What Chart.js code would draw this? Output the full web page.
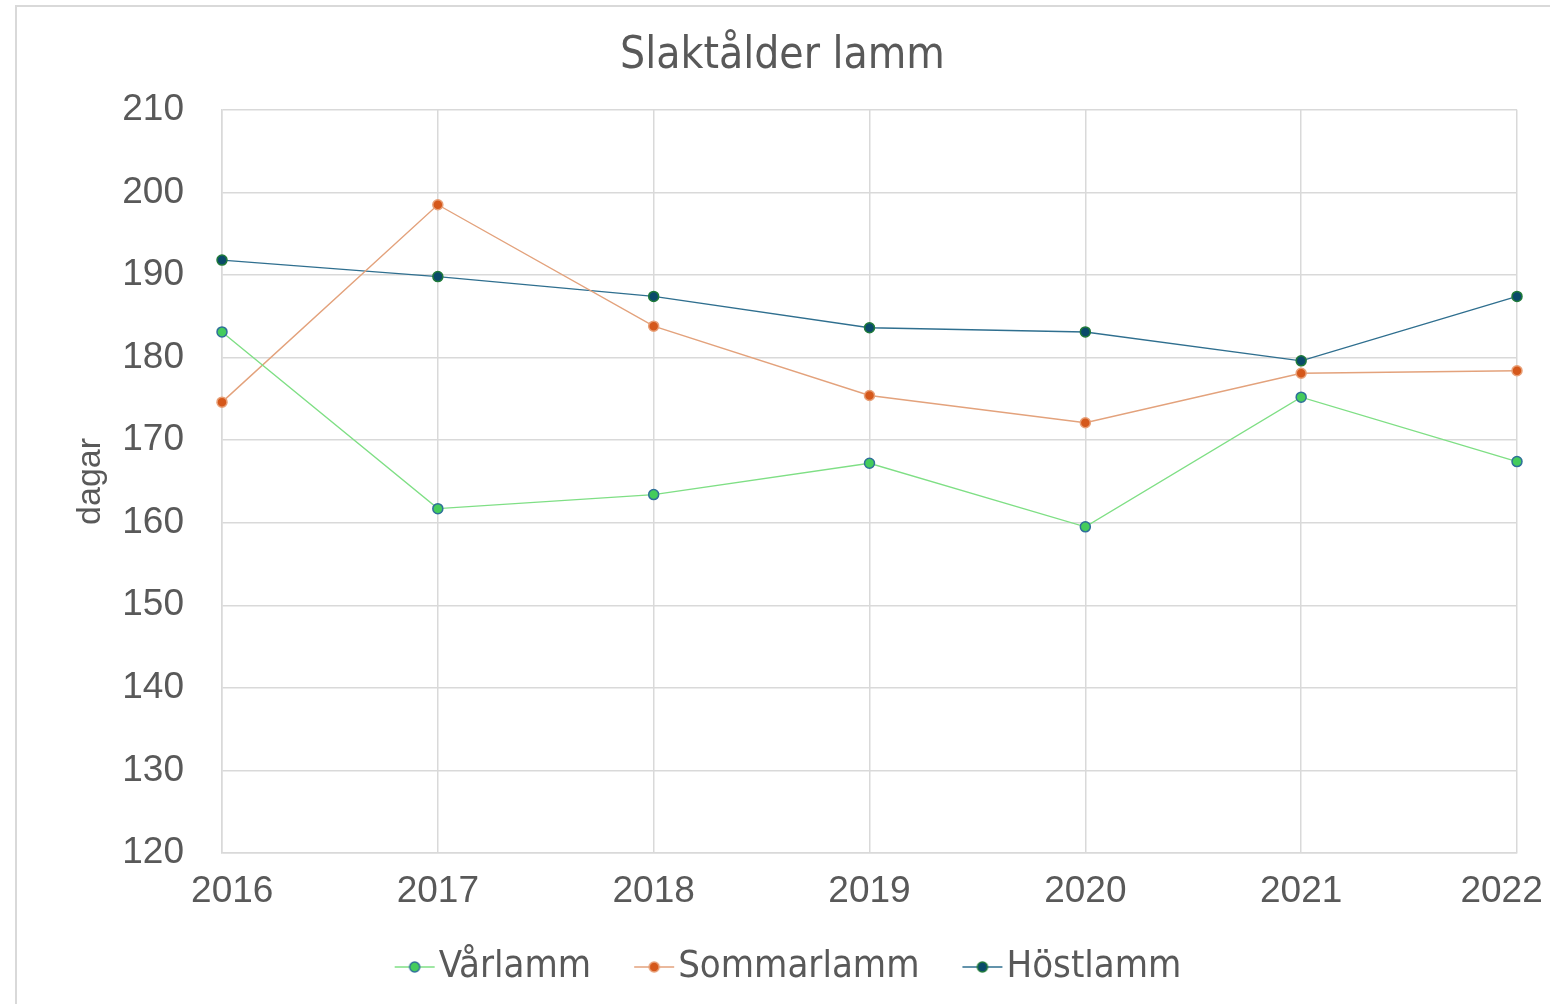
<!DOCTYPE html>
<html><head><meta charset="utf-8">
<script src="https://cdn.jsdelivr.net/npm/chart.js@4"></script>
<style>
html,body{margin:0;padding:0;background:#fff;}
#wrap{position:relative;width:1550px;height:1004px;}
#frame{position:absolute;left:15px;top:5px;right:0;bottom:0;border-top:2px solid #d9d9d9;border-left:2px solid #d9d9d9;}
canvas{position:absolute;left:0;top:0;}
</style></head>
<body><div id="wrap"><div id="frame"></div><canvas id="c" width="1550" height="1004"></canvas></div>
<script>
const categories = ['2016','2017','2018','2019','2020','2021','2022'];
const varlamm = [183.1, 161.7, 163.4, 167.2, 159.5, 175.2, 167.4];
const sommarlamm = [174.6, 198.5, 183.8, 175.4, 172.1, 178.1, 178.4];
const hostlamm = [191.8, 189.8, 187.4, 183.6, 183.1, 179.6, 187.4];
const seriesNames = ['Vårlamm', 'Sommarlamm', 'Höstlamm'];
const yTitle = 'dagar';
const chartTitle = 'Slaktålder lamm';

const styles = [
  {line:'#7fdf85', fill:'#44cc5c', border:'#2f6f9a'},
  {line:'#e3a27c', fill:'#d5581b', border:'#e8a078'},
  {line:'#2f6f8f', fill:'#0a4a6a', border:'#1f7a3a'}
];

function legendImg(s){
  const c = document.createElement('canvas');
  c.width = 56; c.height = 20;
  const x = c.getContext('2d');
  x.strokeStyle = s.line; x.lineWidth = 1.5;
  x.beginPath(); x.moveTo(14,10); x.lineTo(54,10); x.stroke();
  x.beginPath(); x.arc(34,10,5,0,Math.PI*2);
  x.fillStyle = s.fill; x.fill();
  x.strokeStyle = s.border; x.lineWidth = 1.5; x.stroke();
  return c;
}
const imgs = styles.map(legendImg);

const narrow = "'Liberation Sans Narrow','DejaVu Sans Condensed','Roboto Condensed','Liberation Sans',sans-serif";
const regular = "'Liberation Sans',Arial,sans-serif";

const data = {
  labels: categories,
  datasets: [varlamm, sommarlamm, hostlamm].map((d,i)=>({
    label: seriesNames[i],
    data: d,
    borderColor: styles[i].line,
    backgroundColor: styles[i].fill,
    pointBackgroundColor: styles[i].fill,
    pointBorderColor: styles[i].border,
    pointBorderWidth: 1.5,
    pointRadius: 5,
    borderWidth: 1.4,
    tension: 0
  }))
};

const tweak = {
  id: 'tweak',
  afterLayout(chart) {
    const x = chart.scales.x;
    x.bottom += 60;
    const l = chart.legend;
    if (l) { l.left += 7; l.right += 7; }
  }
};

new Chart(document.getElementById('c'), {
  type: 'line',
  data,
  plugins: [tweak],
  options: {
    responsive: false,
    animation: false,
    layout: {padding: {left: 15, right: 0, top: 0, bottom: 8}},
    plugins: {
      title: {display: true, text: chartTitle, color: '#595959',
        font: {family: narrow, size: 44, weight: 'normal'}, padding: {top: 30, bottom: 27}},
      legend: {position: 'bottom',
        labels: {usePointStyle: true, pointStyleWidth: 22, padding: 46, color: '#595959',
          font: {family: narrow, size: 38},
          generateLabels: (chart) => {
            const items = Chart.defaults.plugins.legend.labels.generateLabels(chart);
            items.forEach((it,i)=>{ it.pointStyle = imgs[i]; });
            return items;
          }}},
      tooltip: {enabled: false}
    },
    scales: {
      x: {
        offset: false,
        grid: {color: '#d9d9d9', lineWidth: 1.5, drawTicks: false},
        border: {color: '#d9d9d9', width: 1.5},
        ticks: {color: '#595959', font: {family: regular, size: 37}, padding: 17, maxRotation: 0, autoSkip: false,
          callback: function(v, i, t) {
            const lab = this.getLabelForValue(v);
            if (i === 0) return '\u00a0\u00a0' + lab;
            if (i === t.length - 1) return lab + '\u00a0\u00a0\u00a0';
            return lab;
          }},
        afterFit: s => { s.height = 49; s.paddingLeft = 0; s.paddingRight = 33; }
      },
      y: {
        min: 120, max: 210,
        grid: {color: '#d9d9d9', lineWidth: 1.5, drawTicks: false},
        border: {color: '#d9d9d9', width: 1.5},
        ticks: {stepSize: 10, color: '#595959', font: {family: regular, size: 37}, padding: 38},
        title: {display: true, text: yTitle, color: '#595959', font: {family: regular, size: 34}, padding: {top: 55, bottom: 0}},
        afterFit: s => { s.width = 207; s.paddingTop = 0; s.paddingBottom = 0; }
      }
    }
  }
});
</script></body></html>
